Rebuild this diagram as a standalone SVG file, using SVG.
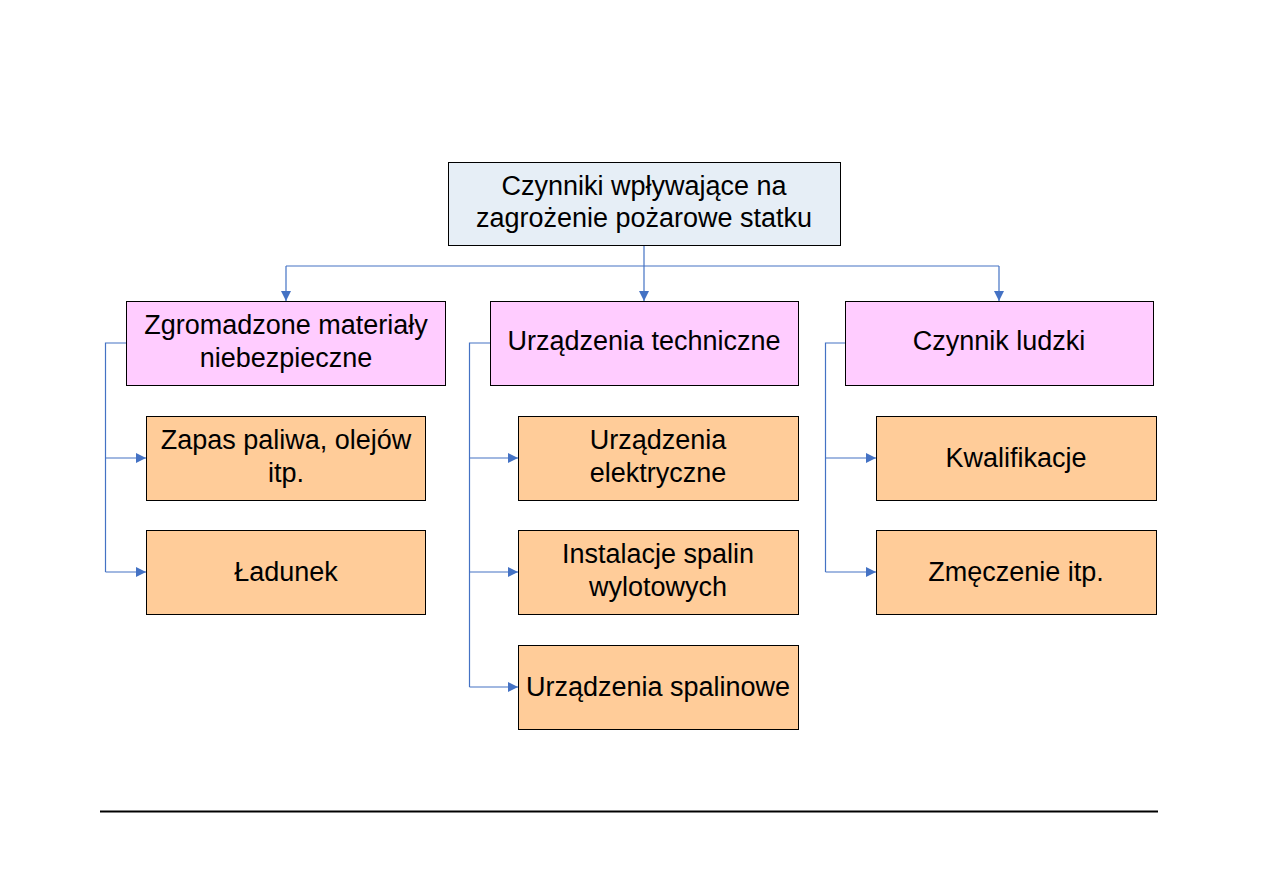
<svg xmlns="http://www.w3.org/2000/svg" width="1263" height="893" viewBox="0 0 1263 893">
<style>
.box{stroke:#000;stroke-width:1}
.root{fill:#E6EEF6}
.cat{fill:#FFCCFF}
.leaf{fill:#FFCC99}
text{font-family:"Liberation Sans",Arial,sans-serif;font-size:27px;fill:#000;text-anchor:middle}
.conn{fill:none;stroke:#4472C4;stroke-width:1.2}
</style>
<defs>
<marker id="arr" viewBox="0 0 10 10" refX="10" refY="5" markerWidth="11" markerHeight="10" markerUnits="userSpaceOnUse" orient="auto">
<path d="M0,0 L10,5 L0,10 z" fill="#4472C4"/>
</marker>
</defs>
<rect width="1263" height="893" fill="#fff"/>
<g id="connectors">
<path class="conn" d="M644,245 V301" marker-end="url(#arr)"/>
<path class="conn" d="M286,266 H999"/>
<path class="conn" d="M286,266 V301" marker-end="url(#arr)"/>
<path class="conn" d="M999,266 V301" marker-end="url(#arr)"/>
<path class="conn" d="M126,343 H105.5 V572"/>
<path class="conn" d="M105.5,458 H146" marker-end="url(#arr)"/>
<path class="conn" d="M105.5,572 H146" marker-end="url(#arr)"/>
<path class="conn" d="M490,343 H469.5 V687"/>
<path class="conn" d="M469.5,458 H518" marker-end="url(#arr)"/>
<path class="conn" d="M469.5,572 H518" marker-end="url(#arr)"/>
<path class="conn" d="M469.5,687 H518" marker-end="url(#arr)"/>
<path class="conn" d="M845,343 H825.5 V572"/>
<path class="conn" d="M825.5,458 H876" marker-end="url(#arr)"/>
<path class="conn" d="M825.5,572 H876" marker-end="url(#arr)"/>
</g>
<g id="root">
<rect class="box root" x="448.5" y="162.5" width="392" height="83"/>
<text x="644" y="195">Czynniki wpływające na</text>
<text x="644" y="227">zagrożenie pożarowe statku</text>
</g>
<g id="cat1">
<rect class="box cat" x="126.5" y="301.5" width="319" height="84"/>
<text x="286" y="334">Zgromadzone materiały</text>
<text x="286" y="367">niebezpieczne</text>
</g>
<g id="cat2">
<rect class="box cat" x="490.5" y="301.5" width="308" height="84"/>
<text x="644" y="350">Urządzenia techniczne</text>
</g>
<g id="cat3">
<rect class="box cat" x="845.5" y="301.5" width="308" height="84"/>
<text x="999" y="350">Czynnik ludzki</text>
</g>
<g id="leaf1a">
<rect class="box leaf" x="146.5" y="416.5" width="279" height="84"/>
<text x="286" y="449">Zapas paliwa, olejów</text>
<text x="286" y="482">itp.</text>
</g>
<g id="leaf1b">
<rect class="box leaf" x="146.5" y="530.5" width="279" height="84"/>
<text x="286" y="581">Ładunek</text>
</g>
<g id="leaf2a">
<rect class="box leaf" x="518.5" y="416.5" width="280" height="84"/>
<text x="658" y="449">Urządzenia</text>
<text x="658" y="482">elektryczne</text>
</g>
<g id="leaf2b">
<rect class="box leaf" x="518.5" y="530.5" width="280" height="84"/>
<text x="658" y="563">Instalacje spalin</text>
<text x="658" y="596">wylotowych</text>
</g>
<g id="leaf2c">
<rect class="box leaf" x="518.5" y="645.5" width="280" height="84"/>
<text x="658" y="696">Urządzenia spalinowe</text>
</g>
<g id="leaf3a">
<rect class="box leaf" x="876.5" y="416.5" width="280" height="84"/>
<text x="1016" y="467">Kwalifikacje</text>
</g>
<g id="leaf3b">
<rect class="box leaf" x="876.5" y="530.5" width="280" height="84"/>
<text x="1016" y="581">Zmęczenie itp.</text>
</g>
<line x1="100" y1="811.5" x2="1158" y2="811.5" stroke="#000" stroke-width="2"/>
</svg>
